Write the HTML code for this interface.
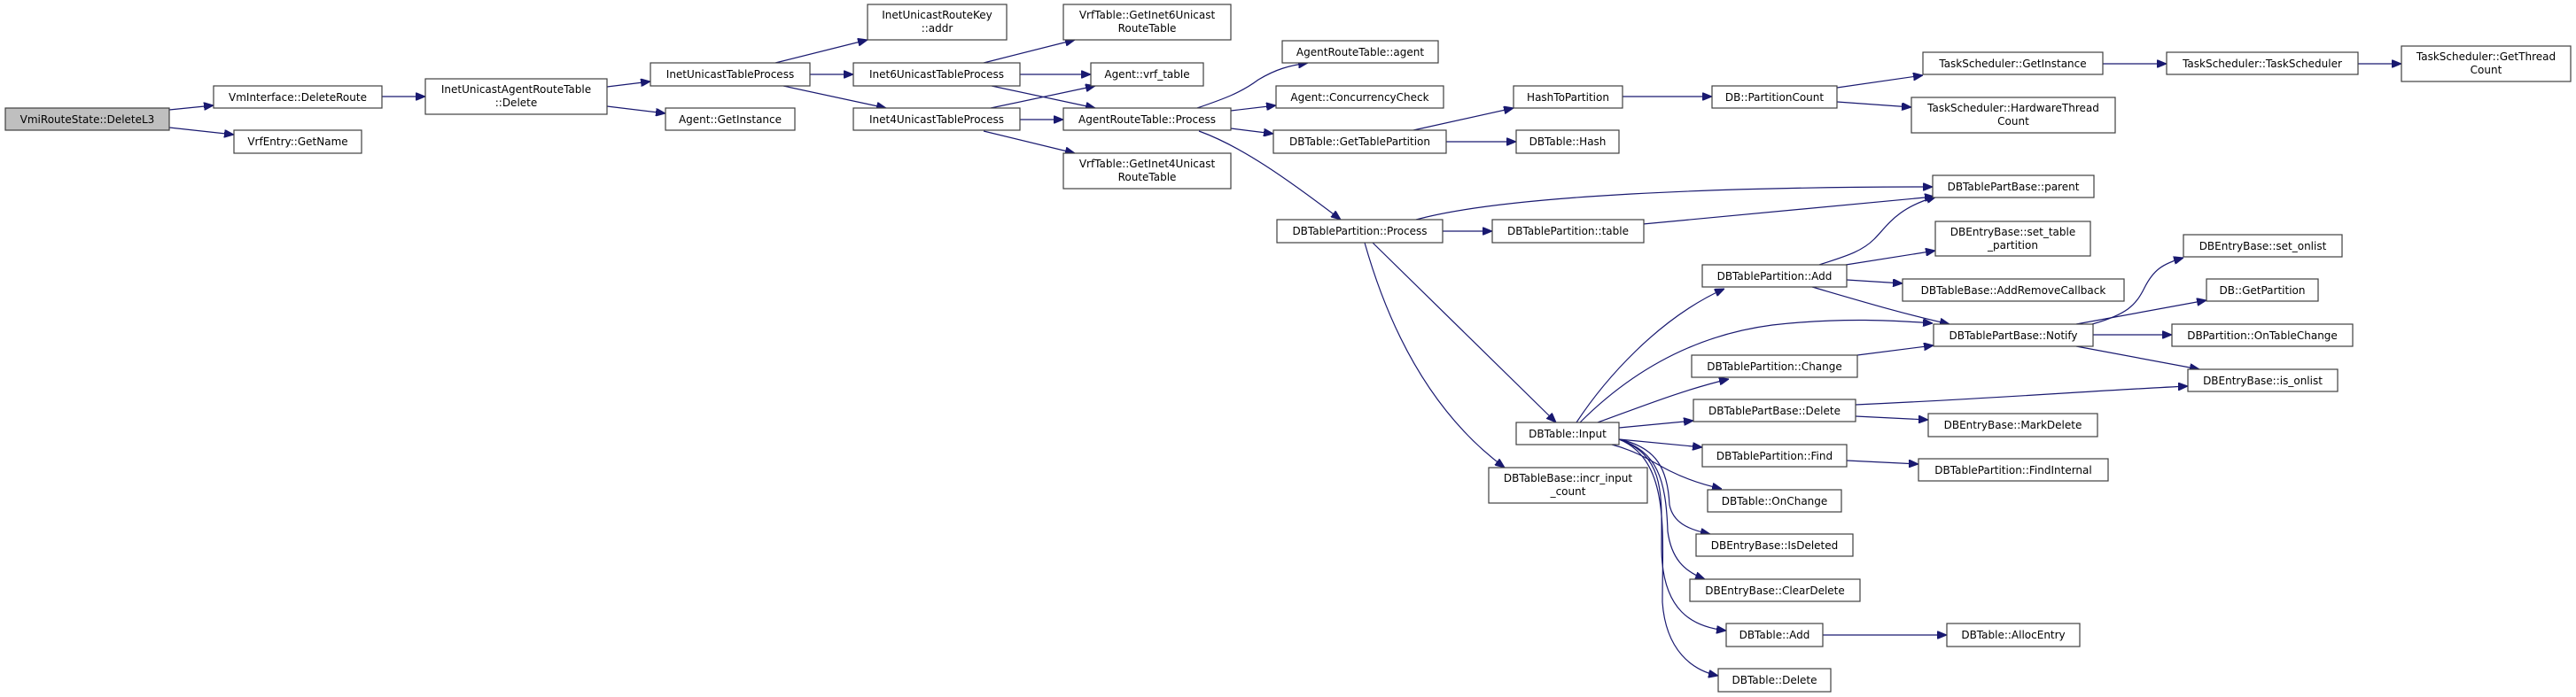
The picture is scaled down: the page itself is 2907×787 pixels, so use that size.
<!DOCTYPE html>
<html><head><meta charset="utf-8"><style>
html,body{margin:0;padding:0;background:#fff;}
svg{display:block;}
text{font-family:"DejaVu Sans","Liberation Sans",sans-serif;font-size:12px;fill:#000;text-anchor:middle;}
.n{fill:#fff;stroke:#404040;stroke-width:1.2;}
.g{fill:#bfbfbf;stroke:#404040;stroke-width:1.2;}
.e{fill:none;stroke:#191970;stroke-width:1.2;}
</style></head><body>
<svg width="2907" height="787" viewBox="0 0 2907 787" xmlns="http://www.w3.org/2000/svg">
<defs><marker id="a" markerWidth="11" markerHeight="9" refX="11" refY="4.5" orient="auto" markerUnits="userSpaceOnUse"><path d="M0,0 L11,4.5 L0,9z" fill="#191970" stroke="#191970"/></marker></defs>
<g marker-end="url(#a)">
<path class="e" d="M191,124 L241,119"/>
<path class="e" d="M191,144 L264,152"/>
<path class="e" d="M431,109 L480,109"/>
<path class="e" d="M685,98 L734,92"/>
<path class="e" d="M685,120 L751,128"/>
<path class="e" d="M875,71 L979,45"/>
<path class="e" d="M914,84 L963,84"/>
<path class="e" d="M884,97 L1000,122"/>
<path class="e" d="M1110,71 L1213,45"/>
<path class="e" d="M1151,84 L1231,84"/>
<path class="e" d="M1119,97 L1236,122"/>
<path class="e" d="M1118,122 L1236,97"/>
<path class="e" d="M1151,135 L1200,135"/>
<path class="e" d="M1110,148 L1213,173"/>
<path class="e" d="M1351,122 C1380,112 1400,105 1420,90 C1440,78 1455,74 1476,71"/>
<path class="e" d="M1389,125 L1440,119"/>
<path class="e" d="M1389,145 L1437,151"/>
<path class="e" d="M1353,148 C1400,165 1450,200 1513,248"/>
<path class="e" d="M1595,147 L1708,122"/>
<path class="e" d="M1632,160 L1711,160"/>
<path class="e" d="M1831,109 L1932,109"/>
<path class="e" d="M2073,99 L2170,85"/>
<path class="e" d="M2073,115 L2157,121"/>
<path class="e" d="M2373,72 L2445,72"/>
<path class="e" d="M2661,72 L2710,72"/>
<path class="e" d="M1598,248 C1700,220 1950,211 2181,211"/>
<path class="e" d="M1628,261 L1684,261"/>
<path class="e" d="M1854,253 L2183,222"/>
<path class="e" d="M1549,274 L1756,477"/>
<path class="e" d="M1540,274 C1570,380 1620,470 1698,528"/>
<path class="e" d="M1779,477 C1810,430 1870,360 1946,326"/>
<path class="e" d="M1783,477 C1830,430 1900,380 2000,367 C2080,358 2140,362 2181,365"/>
<path class="e" d="M1803,477 C1850,460 1900,440 1951,428"/>
<path class="e" d="M1827,483 L1911,475"/>
<path class="e" d="M1827,496 L1921,505"/>
<path class="e" d="M1819,502 C1850,510 1870,525 1885,532 C1905,542 1925,548 1943,552"/>
<path class="e" d="M1827,496 C1870,505 1882,530 1884,570 C1888,590 1905,598 1930,603"/>
<path class="e" d="M1827,496 C1870,510 1880,540 1882,600 C1886,630 1900,645 1924,654"/>
<path class="e" d="M1827,496 C1880,515 1875,560 1875,620 C1876,690 1910,708 1948,712"/>
<path class="e" d="M1827,496 C1885,520 1876,600 1876,680 C1880,735 1910,757 1939,763"/>
<path class="e" d="M2083,299 L2184,283"/>
<path class="e" d="M2053,299 C2080,290 2100,285 2115,270 C2130,255 2140,235 2185,222"/>
<path class="e" d="M2084,316 L2147,320"/>
<path class="e" d="M2045,324 C2100,340 2150,355 2200,366"/>
<path class="e" d="M2096,401 L2182,390"/>
<path class="e" d="M2094,457 C2250,450 2380,440 2469,436"/>
<path class="e" d="M2094,470 L2176,474"/>
<path class="e" d="M2084,520 L2165,524"/>
<path class="e" d="M2057,717 L2197,717"/>
<path class="e" d="M2361,366 C2400,355 2410,345 2420,325 C2430,305 2440,298 2464,291"/>
<path class="e" d="M2343,366 L2490,339"/>
<path class="e" d="M2362,378 L2451,378"/>
<path class="e" d="M2343,391 L2482,417"/>
</g>
<rect class="g" x="6" y="122" width="185" height="25"/><text x="98.5" y="139">VmiRouteState::DeleteL3</text>
<rect class="n" x="241" y="97" width="190" height="25"/><text x="336" y="114">VmInterface::DeleteRoute</text>
<rect class="n" x="264" y="147" width="144" height="26"/><text x="336" y="164">VrfEntry::GetName</text>
<rect class="n" x="480" y="89" width="205" height="40"/><text x="582.5" y="105">InetUnicastAgentRouteTable</text><text x="582.5" y="120">::Delete</text>
<rect class="n" x="734" y="71" width="180" height="26"/><text x="824" y="88">InetUnicastTableProcess</text>
<rect class="n" x="751" y="122" width="146" height="25"/><text x="824" y="139">Agent::GetInstance</text>
<rect class="n" x="979" y="5" width="157" height="40"/><text x="1057.5" y="21">InetUnicastRouteKey</text><text x="1057.5" y="36">::addr</text>
<rect class="n" x="963" y="71" width="188" height="26"/><text x="1057" y="88">Inet6UnicastTableProcess</text>
<rect class="n" x="963" y="122" width="188" height="25"/><text x="1057" y="139">Inet4UnicastTableProcess</text>
<rect class="n" x="1200" y="5" width="189" height="40"/><text x="1294.5" y="21">VrfTable::GetInet6Unicast</text><text x="1294.5" y="36">RouteTable</text>
<rect class="n" x="1231" y="71" width="127" height="26"/><text x="1294.5" y="88">Agent::vrf_table</text>
<rect class="n" x="1200" y="122" width="189" height="25"/><text x="1294.5" y="139">AgentRouteTable::Process</text>
<rect class="n" x="1200" y="173" width="189" height="40"/><text x="1294.5" y="189">VrfTable::GetInet4Unicast</text><text x="1294.5" y="204">RouteTable</text>
<rect class="n" x="1447" y="46" width="176" height="25"/><text x="1535" y="63">AgentRouteTable::agent</text>
<rect class="n" x="1440" y="97" width="189" height="25"/><text x="1534.5" y="114">Agent::ConcurrencyCheck</text>
<rect class="n" x="1437" y="147" width="195" height="26"/><text x="1534.5" y="164">DBTable::GetTablePartition</text>
<rect class="n" x="1708" y="97" width="123" height="25"/><text x="1769.5" y="114">HashToPartition</text>
<rect class="n" x="1711" y="147" width="116" height="26"/><text x="1769" y="164">DBTable::Hash</text>
<rect class="n" x="1932" y="97" width="141" height="25"/><text x="2002.5" y="114">DB::PartitionCount</text>
<rect class="n" x="2170" y="59" width="203" height="25"/><text x="2271.5" y="76">TaskScheduler::GetInstance</text>
<rect class="n" x="2157" y="110" width="230" height="40"/><text x="2272" y="126">TaskScheduler::HardwareThread</text><text x="2272" y="141">Count</text>
<rect class="n" x="2445" y="59" width="216" height="25"/><text x="2553" y="76">TaskScheduler::TaskScheduler</text>
<rect class="n" x="2710" y="52" width="191" height="40"/><text x="2805.5" y="68">TaskScheduler::GetThread</text><text x="2805.5" y="83">Count</text>
<rect class="n" x="2181" y="198" width="182" height="25"/><text x="2272" y="215">DBTablePartBase::parent</text>
<rect class="n" x="1441" y="248" width="187" height="26"/><text x="1534.5" y="265">DBTablePartition::Process</text>
<rect class="n" x="1684" y="248" width="171" height="26"/><text x="1769.5" y="265">DBTablePartition::table</text>
<rect class="n" x="2184" y="250" width="175" height="39"/><text x="2271.5" y="266">DBEntryBase::set_table</text><text x="2271.5" y="281">_partition</text>
<rect class="n" x="1921" y="299" width="163" height="25"/><text x="2002.5" y="316">DBTablePartition::Add</text>
<rect class="n" x="2147" y="315" width="250" height="25"/><text x="2272" y="332">DBTableBase::AddRemoveCallback</text>
<rect class="n" x="2182" y="366" width="180" height="25"/><text x="2272" y="383">DBTablePartBase::Notify</text>
<rect class="n" x="2464" y="265" width="179" height="25"/><text x="2553.5" y="282">DBEntryBase::set_onlist</text>
<rect class="n" x="2490" y="315" width="126" height="25"/><text x="2553" y="332">DB::GetPartition</text>
<rect class="n" x="2451" y="366" width="204" height="25"/><text x="2553" y="383">DBPartition::OnTableChange</text>
<rect class="n" x="2469" y="417" width="169" height="25"/><text x="2553.5" y="434">DBEntryBase::is_onlist</text>
<rect class="n" x="1909" y="401" width="187" height="25"/><text x="2002.5" y="418">DBTablePartition::Change</text>
<rect class="n" x="1911" y="451" width="183" height="25"/><text x="2002.5" y="468">DBTablePartBase::Delete</text>
<rect class="n" x="2176" y="467" width="191" height="26"/><text x="2271.5" y="484">DBEntryBase::MarkDelete</text>
<rect class="n" x="1711" y="477" width="116" height="25"/><text x="1769" y="494">DBTable::Input</text>
<rect class="n" x="1921" y="502" width="163" height="25"/><text x="2002.5" y="519">DBTablePartition::Find</text>
<rect class="n" x="2165" y="518" width="214" height="25"/><text x="2272" y="535">DBTablePartition::FindInternal</text>
<rect class="n" x="1680" y="528" width="179" height="40"/><text x="1769.5" y="544">DBTableBase::incr_input</text><text x="1769.5" y="559">_count</text>
<rect class="n" x="1927" y="553" width="151" height="25"/><text x="2002.5" y="570">DBTable::OnChange</text>
<rect class="n" x="1914" y="603" width="177" height="25"/><text x="2002.5" y="620">DBEntryBase::IsDeleted</text>
<rect class="n" x="1907" y="654" width="192" height="25"/><text x="2003" y="671">DBEntryBase::ClearDelete</text>
<rect class="n" x="1948" y="704" width="109" height="26"/><text x="2002.5" y="721">DBTable::Add</text>
<rect class="n" x="2197" y="704" width="150" height="26"/><text x="2272" y="721">DBTable::AllocEntry</text>
<rect class="n" x="1939" y="755" width="127" height="26"/><text x="2002.5" y="772">DBTable::Delete</text>
</svg>
</body></html>
